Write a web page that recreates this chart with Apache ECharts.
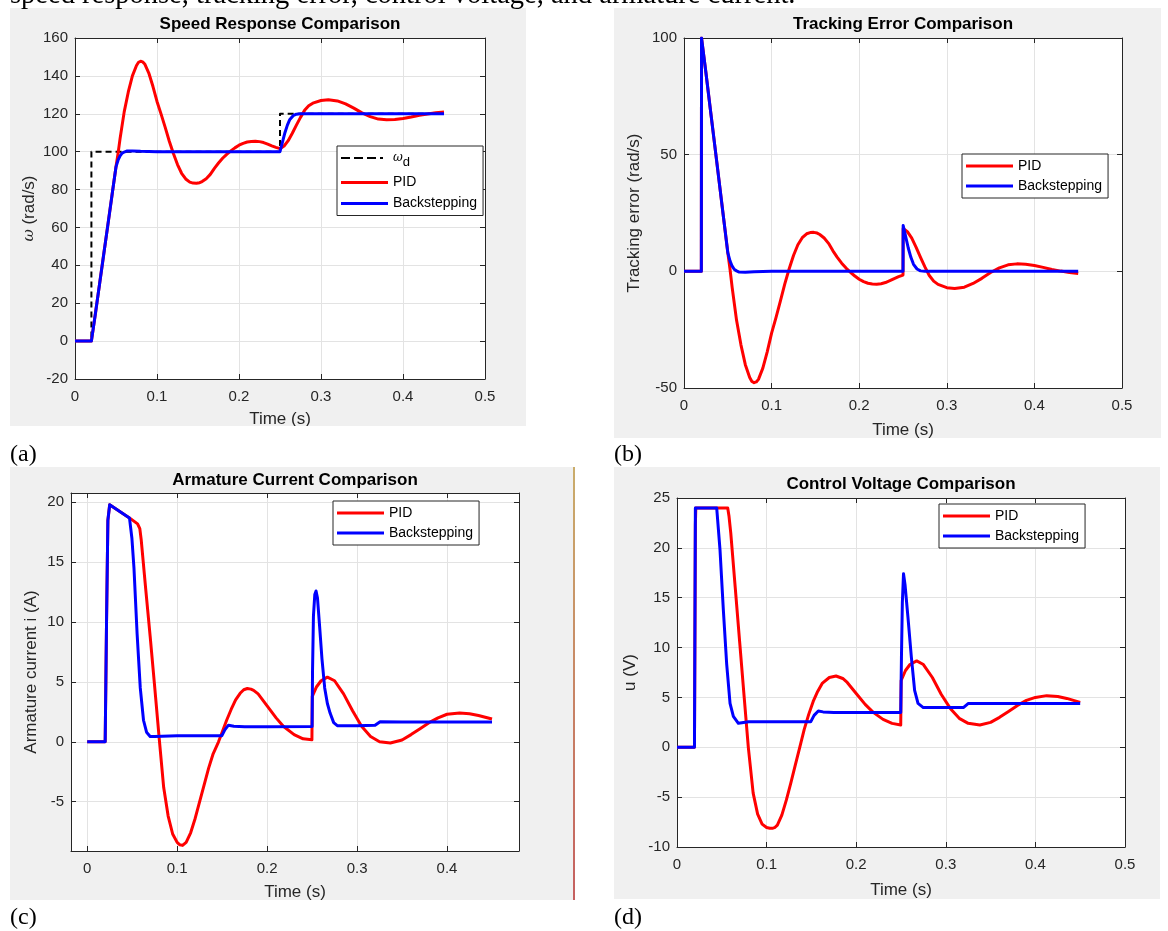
<!DOCTYPE html>
<html>
<head>
<meta charset="utf-8">
<script src="https://cdn.jsdelivr.net/npm/echarts@6/dist/echarts.min.js"></script>
<style>
html, body { margin: 0; padding: 0; background: #fff; }
#chart { width: 1168px; height: 931px; }
</style>
</head>
<body>
<div id="chart"></div>
<script>
// (a) speed response
const tWd = [0, 0.02, 0.02, 0.25, 0.25, 0.45]
const vWd = [0, 0, 100, 100, 120, 120]

const tSpeedPid = [0, 0.02, 0.025, 0.03, 0.035, 0.04, 0.045, 0.05, 0.0525, 0.055, 0.06, 0.065, 0.07, 0.075, 0.0775, 0.08, 0.0825, 0.085, 0.09, 0.095, 0.1, 0.105, 0.11, 0.115, 0.12, 0.125, 0.13, 0.135, 0.14, 0.144, 0.148, 0.152, 0.155, 0.16, 0.165, 0.17, 0.175, 0.18, 0.185, 0.19, 0.195, 0.2, 0.205, 0.21, 0.215, 0.22, 0.225, 0.23, 0.235, 0.24, 0.245, 0.25, 0.255, 0.26, 0.265, 0.27, 0.275, 0.28, 0.285, 0.29, 0.3, 0.309, 0.32, 0.33, 0.34, 0.35, 0.36, 0.37, 0.38, 0.39, 0.4, 0.41, 0.42, 0.43, 0.44, 0.45]
const vSpeedPid = [0, 0, 14.8, 30.3, 45.7, 61.1, 76.6, 92, 99, 107, 121, 131.5, 140, 145.5, 147.2, 147.7, 147.4, 146.3, 141.5, 134.5, 126.5, 119.8, 112.8, 105.5, 99, 93.2, 88.6, 85.6, 83.9, 83.4, 83.3, 83.6, 84.2, 85.7, 88, 91.2, 94, 96.5, 98.6, 100.4, 102, 103.4, 104.4, 105.1, 105.4, 105.5, 105.3, 104.8, 104, 103.1, 102.3, 101.6, 103, 105.8, 109.7, 114, 118.1, 121.8, 124.2, 125.6, 127, 127.4, 126.8, 125.2, 123, 120.5, 118.5, 117.2, 116.8, 117, 117.5, 118.3, 119.2, 119.9, 120.5, 120.9]

const tSpeedBs = [0, 0.02, 0.025, 0.03, 0.035, 0.04, 0.045, 0.05, 0.0525, 0.055, 0.0575, 0.06, 0.063, 0.07, 0.08, 0.1, 0.15, 0.2, 0.25, 0.253, 0.256, 0.259, 0.262, 0.266, 0.27, 0.275, 0.35, 0.45]
const vSpeedBs = [0, 0, 14.8, 30.3, 45.7, 61.1, 76.6, 92, 95.5, 97.8, 99.2, 99.8, 100.3, 100.4, 100.2, 100, 100, 100, 100, 105, 110, 114, 117, 119, 119.8, 120, 120, 120]

// (b) tracking error
const tErrPid = [0, 0.0198, 0.02, 0.025, 0.03, 0.035, 0.04, 0.045, 0.05, 0.0525, 0.055, 0.06, 0.065, 0.07, 0.075, 0.0775, 0.08, 0.0825, 0.085, 0.09, 0.095, 0.1, 0.105, 0.11, 0.115, 0.12, 0.125, 0.13, 0.135, 0.14, 0.144, 0.148, 0.152, 0.155, 0.16, 0.165, 0.17, 0.175, 0.18, 0.185, 0.19, 0.195, 0.2, 0.205, 0.21, 0.215, 0.22, 0.225, 0.23, 0.235, 0.24, 0.245, 0.25, 0.2502, 0.255, 0.26, 0.265, 0.27, 0.275, 0.28, 0.285, 0.29, 0.3, 0.309, 0.32, 0.33, 0.34, 0.35, 0.36, 0.37, 0.38, 0.39, 0.4, 0.41, 0.42, 0.43, 0.44, 0.45]
const vErrPid = [0, 0, 100, 85.2, 69.7, 54.3, 38.9, 23.4, 8, 1, -7, -21, -31.5, -40, -45.5, -47.2, -47.7, -47.4, -46.3, -41.5, -34.5, -26.5, -19.8, -12.8, -5.5, 1, 6.8, 11.4, 14.4, 16.1, 16.6, 16.7, 16.4, 15.8, 14.3, 12, 8.8, 6, 3.5, 1.4, -0.4, -2, -3.4, -4.4, -5.1, -5.4, -5.5, -5.3, -4.8, -4, -3.1, -2.3, -1.6, 18.4, 17, 14.2, 10.3, 6, 1.9, -1.8, -4.2, -5.6, -7, -7.4, -6.8, -5.2, -3, -0.5, 1.5, 2.8, 3.2, 3, 2.5, 1.7, 0.8, 0.1, -0.5, -0.9]

const tErrBs = [0, 0.0198, 0.02, 0.025, 0.03, 0.035, 0.04, 0.045, 0.05, 0.0525, 0.055, 0.0575, 0.06, 0.063, 0.07, 0.08, 0.1, 0.25, 0.2502, 0.253, 0.256, 0.259, 0.262, 0.266, 0.27, 0.275, 0.45]
const vErrBs = [0, 0, 100, 85.2, 69.7, 54.3, 38.9, 23.4, 8, 4.5, 2.2, 0.8, 0.2, -0.3, -0.4, -0.2, 0, 0, 19.6, 15, 10, 6, 3, 1, 0.2, 0, 0]

// (c) armature current
const tCurPid = [0, 0.02, 0.0215, 0.023, 0.025, 0.047, 0.056, 0.0585, 0.06, 0.065, 0.07, 0.075, 0.0804, 0.085, 0.09, 0.095, 0.1, 0.103, 0.106, 0.108, 0.11, 0.115, 0.12, 0.125, 0.13, 0.135, 0.14, 0.146, 0.15, 0.155, 0.16, 0.165, 0.17, 0.174, 0.178, 0.182, 0.185, 0.19, 0.2, 0.21, 0.218, 0.23, 0.24, 0.2498, 0.2502, 0.255, 0.26, 0.267, 0.275, 0.285, 0.295, 0.305, 0.315, 0.325, 0.337, 0.35, 0.36, 0.37, 0.38, 0.39, 0.4, 0.414, 0.425, 0.435, 0.45]
const vCurPid = [0, 0, 10, 18.5, 19.8, 18.7, 18.2, 17.8, 16.9, 12.8, 8.8, 4.6, 0, -3.8, -6.2, -7.7, -8.4, -8.6, -8.65, -8.6, -8.4, -7.6, -6.4, -5, -3.6, -2.2, -1, 0, 0.8, 1.8, 2.7, 3.5, 4.05, 4.35, 4.45, 4.4, 4.3, 4, 3, 2, 1.3, 0.6, 0.25, 0.17, 3.8, 4.6, 5.1, 5.4, 5.1, 4, 2.6, 1.3, 0.45, 0, -0.1, 0.15, 0.6, 1.1, 1.6, 2, 2.3, 2.4, 2.35, 2.2, 1.9]

const tCurBs = [0, 0.02, 0.0215, 0.023, 0.025, 0.047, 0.0497, 0.052, 0.0555, 0.059, 0.0626, 0.066, 0.07, 0.075, 0.1, 0.1496, 0.153, 0.157, 0.163, 0.175, 0.2, 0.25, 0.2505, 0.2515, 0.253, 0.2544, 0.256, 0.2585, 0.261, 0.264, 0.267, 0.27, 0.274, 0.278, 0.3, 0.32, 0.3256, 0.35, 0.4, 0.45]
const vCurBs = [0, 0, 10, 18.5, 19.8, 18.7, 17, 14.5, 9, 4.5, 1.8, 0.8, 0.45, 0.45, 0.5, 0.5, 1, 1.39, 1.3, 1.25, 1.25, 1.28, 6, 10.5, 12.3, 12.6, 12, 9.5, 6.9, 4.5, 3.2, 2.4, 1.6, 1.35, 1.35, 1.38, 1.68, 1.65, 1.65, 1.65]

// (d) control voltage
const tVolPid = [0, 0.0195, 0.0205, 0.021, 0.0566, 0.058, 0.06, 0.065, 0.07, 0.075, 0.0796, 0.085, 0.09, 0.095, 0.1, 0.1035, 0.107, 0.1095, 0.112, 0.117, 0.122, 0.127, 0.132, 0.137, 0.142, 0.147, 0.152, 0.157, 0.162, 0.17, 0.1775, 0.185, 0.19, 0.2, 0.21, 0.219, 0.23, 0.24, 0.2497, 0.2502, 0.255, 0.26, 0.2675, 0.275, 0.285, 0.295, 0.305, 0.315, 0.325, 0.338, 0.35, 0.36, 0.37, 0.38, 0.39, 0.4, 0.4126, 0.425, 0.435, 0.45]
const vVolPid = [0, 0, 22.3, 24, 24, 23.2, 21.5, 16, 10.5, 5, 0, -4.6, -6.7, -7.7, -8.05, -8.12, -8.12, -8.02, -7.8, -6.8, -5.3, -3.6, -1.8, 0, 1.8, 3.3, 4.6, 5.6, 6.4, 7, 7.15, 6.9, 6.5, 5.4, 4.3, 3.5, 2.8, 2.4, 2.24, 6.7, 7.7, 8.3, 8.66, 8.3, 7, 5.3, 3.9, 2.9, 2.4, 2.24, 2.5, 3, 3.6, 4.2, 4.7, 5, 5.18, 5.1, 4.9, 4.5]

const tVolBs = [0, 0.0195, 0.0205, 0.0443, 0.048, 0.0517, 0.0554, 0.0592, 0.0629, 0.0685, 0.08, 0.1492, 0.153, 0.1577, 0.163, 0.175, 0.2497, 0.2505, 0.2515, 0.2528, 0.2545, 0.2577, 0.2615, 0.2652, 0.269, 0.2749, 0.3196, 0.3252, 0.45]
const vVolBs = [0, 0, 24, 24, 19.8, 13.8, 8.4, 4.4, 3.1, 2.4, 2.55, 2.55, 3.2, 3.64, 3.55, 3.5, 3.5, 9, 14.5, 17.4, 16.3, 13.1, 9.1, 5.7, 4.4, 3.98, 3.98, 4.4, 4.4]

// tick values for panel (c), whose limits are not multiples of the step
const curTimeTicks = [0, 0.1, 0.2, 0.3, 0.4]
const curValueTicks = [-5, 0, 5, 10, 15, 20]

const titles = ['Speed Response Comparison', 'Tracking Error Comparison', 'Armature Current Comparison', 'Control Voltage Comparison']
const yNames = ['{i|ω} (rad/s)', 'Tracking error (rad/s)', 'Armature current i (A)', 'u (V)']

const FONT = '"Liberation Sans", Arial, sans-serif'
const AX = '#262626'
// legend icons: 47x14 box, line drawn as thin filled bars
const ICON_SOLID = 'path://M0 0M47 14M0 5.5L47 5.5L47 8.5L0 8.5Z'
const ICON_DASH = 'path://M0 0M47 14M0 6L9 6L9 8L0 8ZM13 6L22 6L22 8L13 8ZM26 6L35 6L35 8L26 8ZM39 6L42 6L42 8L39 8Z'

const grids = [
  { left: 75, top: 38, width: 410, height: 341 },
  { left: 684, top: 38, width: 438, height: 350 },
  { left: 71, top: 493, width: 448, height: 358 },
  { left: 677, top: 498, width: 448, height: 349 },
]
const xCfg = [
  { min: 0, max: 0.5, interval: 0.1, nameGap: 32 },
  { min: 0, max: 0.5, interval: 0.1, nameGap: 34 },
  { min: -0.018, max: 0.48, ticks: curTimeTicks, nameGap: 33 },
  { min: 0, max: 0.5, interval: 0.1, nameGap: 35 },
]
const yCfg = [
  { min: -20, max: 160, interval: 20, nameGap: 37 },
  { min: -50, max: 100, interval: 50, nameGap: 41 },
  { min: -9.12, max: 20.78, ticks: curValueTicks, nameGap: 31 },
  { min: -10, max: 25, interval: 5, nameGap: 38 },
]

const pts = (ts, vs) => ts.map((t, i) => [t, vs[i]])

function makeAxis(cfg, gi, pos, main, isX) {
  const ax = {
    type: 'value',
    gridIndex: gi,
    position: pos,
    min: cfg.min,
    max: cfg.max,
    axisLine: { show: true, onZero: false, lineStyle: { color: AX, width: 1 } },
    axisTick: { show: true, inside: true, length: 5, lineStyle: { color: AX, width: 1 } },
    axisLabel: { show: main, color: AX, fontSize: 15, fontFamily: FONT, margin: isX ? 10 : 7 },
    splitLine: { show: main, lineStyle: { color: '#e3e3e3', width: 1 } },
  }
  if (cfg.ticks) {
    ax.axisTick.customValues = cfg.ticks
    ax.axisLabel.customValues = cfg.ticks
  } else {
    ax.interval = cfg.interval
  }
  if (main) {
    ax.nameLocation = 'middle'
    ax.nameGap = cfg.nameGap
    ax.name = isX ? 'Time (s)' : yNames[gi]
    ax.nameTextStyle = {
      color: AX, fontSize: 17, fontFamily: FONT,
      rich: { i: { fontStyle: 'italic', fontFamily: '"DejaVu Serif", serif', fontSize: 15, color: AX } },
    }
  }
  return ax
}

const xAxes = [], yAxes = []
for (let g = 0; g < 4; g++) xAxes.push(makeAxis(xCfg[g], g, 'bottom', true, true))
for (let g = 0; g < 4; g++) xAxes.push(makeAxis(xCfg[g], g, 'top', false, true))
for (let g = 0; g < 4; g++) yAxes.push(makeAxis(yCfg[g], g, 'left', true, false))
for (let g = 0; g < 4; g++) yAxes.push(makeAxis(yCfg[g], g, 'right', false, false))

function line(name, g, data, color, dash) {
  return {
    name: name,
    type: 'line',
    xAxisIndex: g,
    yAxisIndex: g,
    data: data,
    symbol: 'none',
    showSymbol: false,
    animation: false,
    lineStyle: { color: color, width: dash ? 2 : 3, type: dash ? [6, 4] : 'solid', join: 'round' },
    itemStyle: { color: color },
    z: 2,
  }
}

const series = [
  line('wd', 0, pts(tWd, vWd), '#000', true),
  line('PID', 0, pts(tSpeedPid, vSpeedPid), '#ff0000'),
  line('Backstepping', 0, pts(tSpeedBs, vSpeedBs), '#0000ff'),
  line('PID', 1, pts(tErrPid, vErrPid), '#ff0000'),
  line('Backstepping', 1, pts(tErrBs, vErrBs), '#0000ff'),
  line('PID', 2, pts(tCurPid, vCurPid), '#ff0000'),
  line('Backstepping', 2, pts(tCurBs, vCurBs), '#0000ff'),
  line('PID', 3, pts(tVolPid, vVolPid), '#ff0000'),
  line('Backstepping', 3, pts(tVolBs, vVolBs), '#0000ff'),
]

const legItem = (name) => ({ name: name, icon: name === 'wd' ? ICON_DASH : ICON_SOLID })

function legend(left, top, names, gap) {
  return {
    orient: 'vertical',
    left: left,
    top: top,
    data: names.map(legItem),
    selectedMode: false,
    itemWidth: 47,
    itemHeight: 14,
    itemGap: gap,
    padding: [5, 6, 5, 4],
    backgroundColor: '#fff',
    borderColor: AX,
    borderWidth: 1,
    borderRadius: 0,
    itemStyle: { borderWidth: 0 },
    formatter: (n) => n === 'wd' ? '{w|ω}{s|d}' : n,
    textStyle: {
      color: '#000', fontSize: 14, fontFamily: FONT,
      rich: {
        w: { fontStyle: 'italic', fontFamily: '"DejaVu Serif", serif', fontSize: 12, color: '#000' },
        s: { fontSize: 13, color: '#000', fontFamily: FONT, padding: [8, 0, 0, 0] },
      },
    },
  }
}

const panels = [
  { x: 10, y: 8, w: 516, h: 418 },
  { x: 614, y: 8, w: 547, h: 430 },
  { x: 10, y: 467, w: 563, h: 433 },
  { x: 614, y: 467, w: 546, h: 432 },
]
const graphics = []
panels.forEach((p) => {
  graphics.push({ type: 'rect', z: -10, shape: { x: p.x, y: p.y, width: p.w, height: p.h }, style: { fill: '#f0f0f0' } })
})
// bottom of panel (a) cuts its x label
graphics.push({ type: 'rect', z: 100, shape: { x: 10, y: 426, width: 520, height: 12 }, style: { fill: '#fff' } })
graphics.push({
  type: 'line', z: 1,
  shape: { x1: 574, y1: 467, x2: 574, y2: 900 },
  style: {
    lineWidth: 1.5,
    stroke: new echarts.graphic.LinearGradient(0, 0, 0, 1, [
      { offset: 0, color: '#b8923a' }, { offset: 1, color: '#b22a2a' },
    ]),
  },
})
const titlePos = [[280, 24], [903, 24], [295, 480], [901, 484]]
titles.forEach((t, i) => {
  graphics.push({
    type: 'text', z: 5,
    style: {
      text: t, x: titlePos[i][0], y: titlePos[i][1],
      font: 'bold 17px ' + FONT, fill: '#000',
      textAlign: 'center', textVerticalAlign: 'middle', align: 'center', verticalAlign: 'middle',
    },
  })
})
const tags = [['(a)', 10, 455], ['(b)', 614, 455], ['(c)', 10, 918], ['(d)', 614, 918]]
tags.forEach((t) => {
  graphics.push({
    type: 'text', z: 5,
    style: {
      text: t[0], x: t[1], y: t[2], font: '24px "Liberation Serif", serif', fill: '#000',
      textAlign: 'left', textVerticalAlign: 'middle', align: 'left', verticalAlign: 'middle',
    },
  })
})
graphics.push({
  type: 'text', z: 5,
  style: {
    text: 'speed response, tracking error, control voltage, and armature current.',
    x: 10, y: 10, font: '28.5px "Liberation Serif", serif', fill: '#000',
    textAlign: 'left', textVerticalAlign: 'bottom', align: 'left', verticalAlign: 'bottom',
  },
})

const chart = echarts.init(document.getElementById('chart'), null, { renderer: 'canvas' })
chart.setOption({
  animation: false,
  backgroundColor: '#fff',
  grid: grids.map((g) => Object.assign({ show: true, backgroundColor: '#fff', borderWidth: 0, containLabel: false, outerBoundsMode: 'none' }, g)),
  xAxis: xAxes,
  yAxis: yAxes,
  legend: [
    legend(337, 146, ['wd', 'PID', 'Backstepping'], 7),
    legend(962, 154, ['PID', 'Backstepping'], 6),
    legend(333, 501, ['PID', 'Backstepping'], 6),
    legend(939, 504, ['PID', 'Backstepping'], 6),
  ],
  graphic: graphics,
  series: series,
})
</script>
</body>
</html>
